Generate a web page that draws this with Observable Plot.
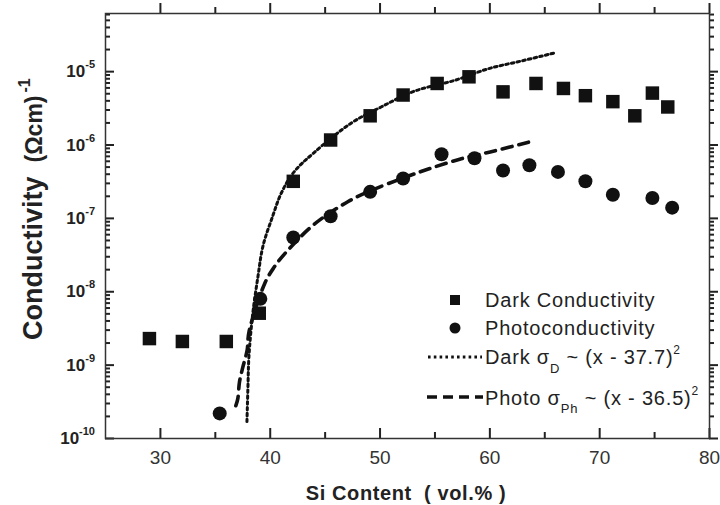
<!DOCTYPE html>
<html><head><meta charset="utf-8">
<script src="https://cdn.jsdelivr.net/npm/d3@7"></script>
<script src="https://cdn.jsdelivr.net/npm/@observablehq/plot@0.6"></script>
<style>
html,body{margin:0;padding:0;background:#fff;}
#chart{position:relative;width:720px;height:505px;}
</style></head><body><div id="chart"></div>
<script>
// ---- data ----
const darkX = [29.0, 32.0, 36.0, 39.0, 42.1, 45.5, 49.1, 52.1, 55.2, 58.1, 61.2, 64.2, 66.7, 68.7, 71.2, 73.2, 74.8, 76.2];
const darkY = [2.3e-9, 2.1e-9, 2.1e-9, 5.1e-9, 3.2e-7, 1.17e-6, 2.5e-6, 4.8e-6, 6.9e-6, 8.5e-6, 5.3e-6, 6.9e-6, 5.9e-6, 4.7e-6, 3.9e-6, 2.5e-6, 5.1e-6, 3.3e-6];
const photoX = [35.4, 39.1, 42.1, 45.5, 49.1, 52.1, 55.6, 58.6, 61.2, 63.6, 66.2, 68.7, 71.2, 74.8, 76.6];
const photoY = [2.2e-10, 8e-9, 5.5e-8, 1.07e-7, 2.3e-7, 3.5e-7, 7.5e-7, 6.6e-7, 4.5e-7, 5.3e-7, 4.3e-7, 3.2e-7, 2.1e-7, 1.9e-7, 1.4e-7];
// fit curves
const darkFitX = [37.88, 37.97, 38.06, 38.42, 38.88, 39.34, 40.25, 41.0, 42.17, 44.0, 47.4, 50.1, 53.1, 56.8, 59.9, 62.9, 65.9];
const darkFitY = [1.7e-10, 5e-10, 1.3e-9, 5.2e-9, 1.6e-8, 4.2e-8, 1.1e-7, 2.2e-7, 4.3e-7, 7.9e-7, 2.0e-6, 3.3e-6, 5.4e-6, 7.6e-6, 1.1e-5, 1.4e-5, 1.8e-5];
const photoFitX = [36.87, 37.05, 37.2, 37.5, 37.9, 38.06, 39.5, 40.3, 41.4, 44.0, 47.1, 49.2, 52.2, 54.4, 57.4, 60.4, 63.6];
const photoFitY = [2.8e-10, 3.5e-10, 5.9e-10, 9.3e-10, 1.6e-9, 2.8e-9, 1.3e-8, 2.1e-8, 3.4e-8, 8.3e-8, 1.7e-7, 2.4e-7, 3.6e-7, 4.7e-7, 6.5e-7, 8.3e-7, 1.1e-6];
// axes
const xDomain = [25, 80];
const yDomain = [1e-10, 6.2e-5];
const xMajor = [30, 40, 50, 60, 70, 80];
const xMinor = [35, 45, 55, 65, 75];
const yExponents = [-10, -9, -8, -7, -6, -5];
const xLabel = "Si Content  ( vol.% )";
const legendLabels = ["Dark Conductivity", "Photoconductivity"];

// ---- build tables ----
const dark = darkX.map((x, i) => ({x, y: darkY[i]}));
const photo = photoX.map((x, i) => ({x, y: photoY[i]}));
const darkFit = darkFitX.map((x, i) => ({x, y: darkFitY[i]}));
const photoFit = photoFitX.map((x, i) => ({x, y: photoFitY[i]}));
const yMajor = yExponents.map(e => Math.pow(10, e));
const yMinor = [];
for (const e of yExponents) for (let m = 2; m <= 9; m++) { const v = m * Math.pow(10, e); if (v <= yDomain[1]) yMinor.push(v); }

const FONT = "Liberation Sans, Arial, sans-serif";
const AX = "#333";
const TICK = "#222";

const plot = Plot.plot({
  width: 720, height: 505,
  marginLeft: 105, marginRight: 11, marginTop: 13, marginBottom: 67,
  style: {fontFamily: FONT, background: "#fff", overflow: "visible"},
  x: {domain: xDomain},
  y: {type: "log", domain: yDomain, axis: null},
  marks: [
    Plot.axisX({ticks: xMajor, tickSize: 0, tickPadding: 12, fontSize: 19, tickFormat: d => String(d), label: null, fill: "#333"}),
    // inward ticks drawn as Plot rules through the scales
    Plot.ruleX(xMajor, {x: d => d, y1: () => yDomain[0], y2: () => yDomain[0], insetBottom: 10, stroke: TICK, strokeWidth: 2}),
    Plot.ruleX(xMinor, {x: d => d, y1: () => yDomain[0], y2: () => yDomain[0], insetBottom: 6, stroke: TICK, strokeWidth: 2}),
    Plot.ruleX(xMajor, {x: d => d, y1: () => yDomain[1], y2: () => yDomain[1], insetTop: -10, stroke: TICK, strokeWidth: 2}),
    Plot.ruleX(xMinor, {x: d => d, y1: () => yDomain[1], y2: () => yDomain[1], insetTop: -6, stroke: TICK, strokeWidth: 2}),
    Plot.ruleY(yMajor, {y: d => d, x1: () => xDomain[0], x2: () => xDomain[0], insetRight: -9, stroke: TICK, strokeWidth: 2}),
    Plot.ruleY(yMinor, {y: d => d, x1: () => xDomain[0], x2: () => xDomain[0], insetRight: -5, stroke: TICK, strokeWidth: 2}),
    Plot.ruleY(yMajor, {y: d => d, x1: () => xDomain[1], x2: () => xDomain[1], insetLeft: 9, stroke: TICK, strokeWidth: 2}),
    Plot.ruleY(yMinor, {y: d => d, x1: () => xDomain[1], x2: () => xDomain[1], insetLeft: 5, stroke: TICK, strokeWidth: 2}),
    Plot.line(darkFit, {x: "x", y: "y", curve: "catmull-rom", stroke: "#111", strokeWidth: 3, strokeDasharray: "2.6 3.2"}),
    Plot.line(photoFit, {x: "x", y: "y", curve: "catmull-rom", stroke: "#111", strokeWidth: 3.6, strokeDasharray: "10 7"}),
    Plot.dot(dark, {x: "x", y: "y", symbol: "square", r: 7.6, fill: "#111", stroke: null}),
    Plot.dot(photo, {x: "x", y: "y", symbol: "circle", r: 7, fill: "#111", stroke: null}),
    Plot.frame({stroke: AX, strokeWidth: 1.5})
  ]
});
document.getElementById("chart").appendChild(plot);

const svg = d3.select(plot);
const ys = plot.scale("y");

// y tick labels with superscripts
const yl = svg.append("g").attr("font-family", FONT).attr("fill", "#222").attr("text-anchor", "end");
yExponents.forEach(e => {
  const t = yl.append("text").attr("x", 95).attr("y", ys.apply(Math.pow(10, e)) + 6);
  t.append("tspan").attr("font-size", 17).attr("font-weight", "bold").text("10");
  t.append("tspan").attr("font-size", 11).attr("font-weight", "bold").attr("dy", -9).text(String(e));
});

// axis titles
svg.append("text").attr("x", 406).attr("y", 500).attr("text-anchor", "middle")
  .attr("font-family", FONT).attr("font-weight", "bold").attr("font-size", 20)
  .attr("letter-spacing", 0.6).attr("fill", "#222").text(xLabel);
const ytl = svg.append("text").attr("transform", "translate(42,340) rotate(-90)").attr("text-anchor", "start")
  .attr("font-family", FONT).attr("font-weight", "bold").attr("fill", "#222");
ytl.append("tspan").attr("font-size", 27).text("Conductivity");
ytl.append("tspan").attr("font-size", 23).attr("dx", 14).text("(Ωcm)");
ytl.append("tspan").attr("font-size", 16).attr("dx", 3).attr("dy", -12).text("-1");

// legend
const lg = svg.append("g").attr("font-family", FONT).attr("fill", "#222").attr("font-size", 20)
  .attr("letter-spacing", 0.8).attr("text-anchor", "start");
lg.append("rect").attr("x", 450).attr("y", 295).attr("width", 10).attr("height", 10).attr("fill", "#111");
lg.append("circle").attr("cx", 455).attr("cy", 328).attr("r", 5.5).attr("fill", "#111");
lg.append("line").attr("x1", 428).attr("x2", 482).attr("y1", 357).attr("y2", 357)
  .attr("stroke", "#111").attr("stroke-width", 3).attr("stroke-dasharray", "2.6 3.2");
lg.append("line").attr("x1", 427).attr("x2", 483).attr("y1", 397).attr("y2", 397)
  .attr("stroke", "#111").attr("stroke-width", 3.6).attr("stroke-dasharray", "10 6");
lg.append("text").attr("x", 485).attr("y", 307).text(legendLabels[0]);
lg.append("text").attr("x", 485).attr("y", 335).text(legendLabels[1]);
const t3 = lg.append("text").attr("x", 485).attr("y", 364);
t3.append("tspan").text("Dark σ");
t3.append("tspan").attr("font-size", 13).attr("dy", 9).text("D");
t3.append("tspan").attr("dy", -9).text(" ~ (x - 37.7)");
t3.append("tspan").attr("font-size", 12).attr("dy", -10).text("2");
const t4 = lg.append("text").attr("x", 485).attr("y", 405);
t4.append("tspan").text("Photo σ");
t4.append("tspan").attr("font-size", 13).attr("dy", 8).text("Ph");
t4.append("tspan").attr("dy", -8).text(" ~ (x - 36.5)");
t4.append("tspan").attr("font-size", 12).attr("dy", -10).text("2");
</script></body></html>
